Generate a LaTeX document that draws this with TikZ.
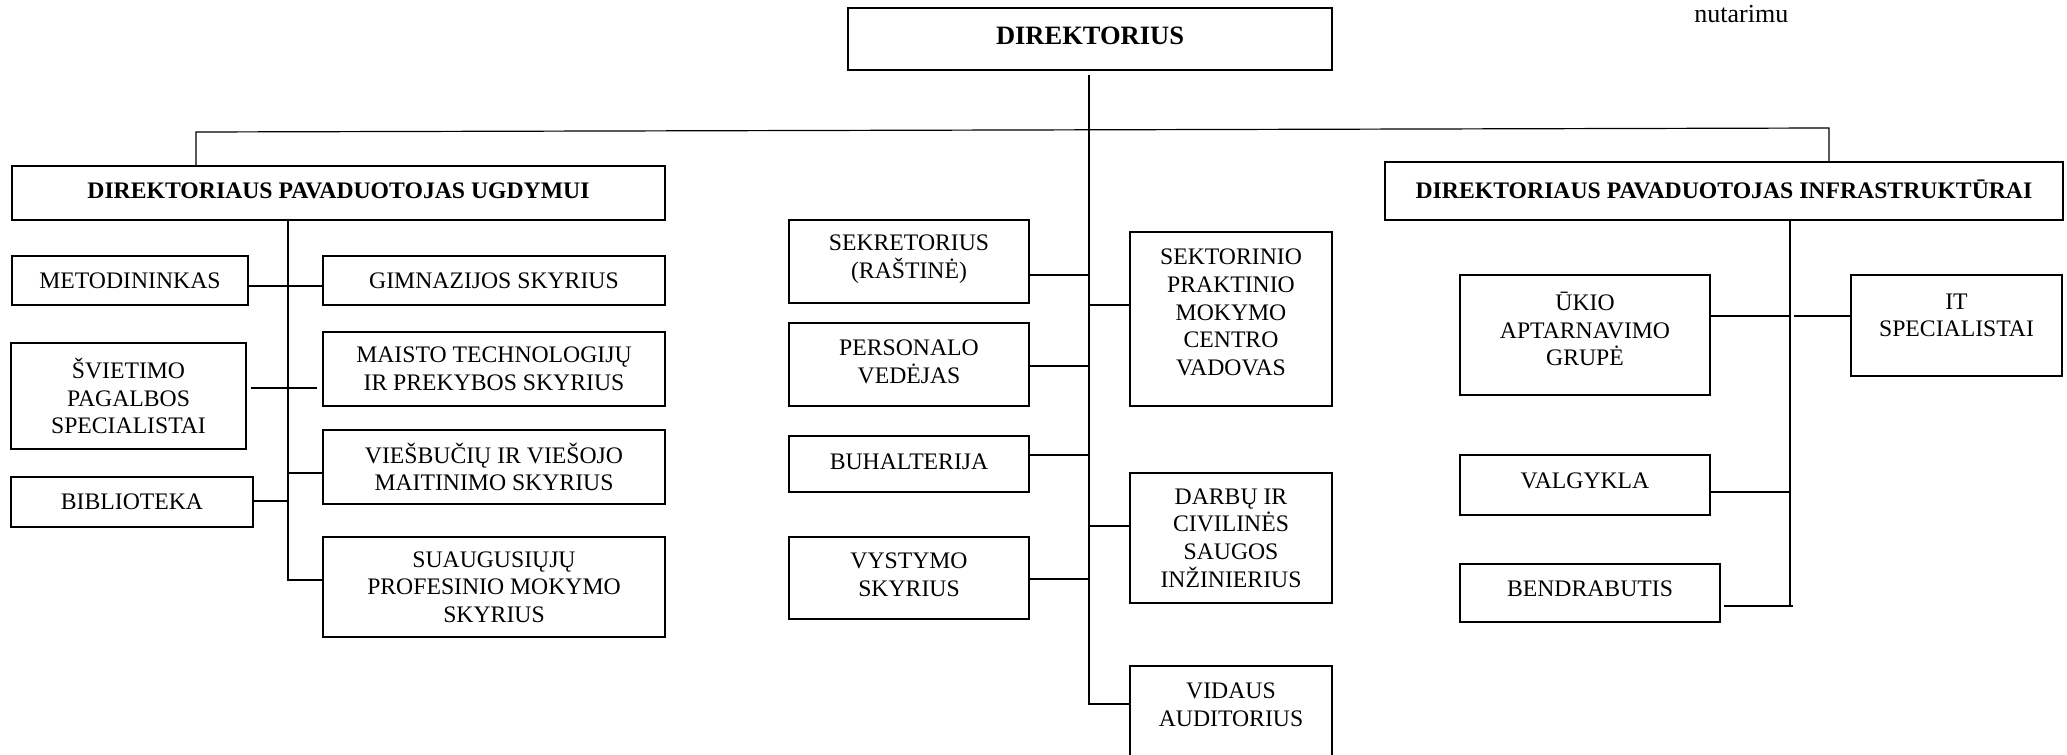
\documentclass[tikz,border=0pt]{standalone}
\usepackage{fontspec}
\setmainfont{Liberation Serif}
\usetikzlibrary{fit,calc}
\begin{document}
\begin{tikzpicture}[x=0.5pt,y=-0.5pt]
\tikzset{
  bx/.style={draw, line width=0.7pt, inner sep=0pt},
  lbl/.style={font=\fontsize{11.85}{13.85}\selectfont, align=center, inner sep=0pt},
  lblb/.style={lbl, font=\fontsize{11.85}{13.85}\selectfont\bfseries},
  ln/.style={line width=0.6pt},
}
\useasboundingbox (0,0) rectangle (2067,755);

% top level
\node[bx, fit={(848,8) (1332,70)}, label={[lblb, font=\fontsize{13.25}{15}\selectfont\bfseries, yshift=1.5pt]center:{DIREKTORIUS}}] (dir) {};
\node[bx, fit={(12,166) (665,220)}, label={[lblb, yshift=1pt]center:{DIREKTORIAUS PAVADUOTOJAS UGDYMUI}}] (ugd) {};
\node[bx, fit={(1385,162) (2063,220)}, label={[lblb, yshift=0.75pt]center:{DIREKTORIAUS PAVADUOTOJAS INFRASTRUKTŪRAI}}] (infra) {};

% left group
\node[bx, fit={(12,256) (248,305)}, label={[lbl]center:{METODININKAS}}] (met) {};
\node[bx, fit={(11,343) (246,449)}, label={[lbl]center:{ŠVIETIMO\\PAGALBOS\\SPECIALISTAI}}] (svi) {};
\node[bx, fit={(11,477) (253,527)}, label={[lbl]center:{BIBLIOTEKA}}] (bib) {};
\node[bx, fit={(323,256) (665,305)}, label={[lbl]center:{GIMNAZIJOS SKYRIUS}}] (gim) {};
\node[bx, fit={(323,332) (665,406)}, label={[lbl]center:{MAISTO TECHNOLOGIJŲ\\IR PREKYBOS SKYRIUS}}] (mai) {};
\node[bx, fit={(323,430) (665,504)}, label={[lbl]center:{VIEŠBUČIŲ IR VIEŠOJO\\MAITINIMO SKYRIUS}}] (vie) {};
\node[bx, fit={(323,537) (665,637)}, label={[lbl]center:{SUAUGUSIŲJŲ\\PROFESINIO MOKYMO\\SKYRIUS}}] (sua) {};

% centre group
\node[bx, fit={(789,220) (1029,303)}, label={[lbl, yshift=1pt]center:{SEKRETORIUS\\(RAŠTINĖ)}}] (sek) {};
\node[bx, fit={(789,323) (1029,406)}, label={[lbl, yshift=1.5pt]center:{PERSONALO\\VEDĖJAS}}] (per) {};
\node[bx, fit={(789,436) (1029,492)}, label={[lbl, yshift=1pt]center:{BUHALTERIJA}}] (buh) {};
\node[bx, fit={(789,537) (1029,619)}, label={[lbl, yshift=1.5pt]center:{VYSTYMO\\SKYRIUS}}] (vys) {};
\node[bx, fit={(1130,232) (1332,406)}, label={[lbl, yshift=3.25pt]center:{SEKTORINIO\\PRAKTINIO\\MOKYMO\\CENTRO\\VADOVAS}}] (sekt) {};
\node[bx, fit={(1130,473) (1332,603)}, label={[lbl]center:{DARBŲ IR\\CIVILINĖS\\SAUGOS\\INŽINIERIUS}}] (dar) {};
\node[bx, fit={(1130,666) (1332,762)}, label={[lbl, yshift=4.5pt]center:{VIDAUS\\AUDITORIUS}}] (vid) {};

% right group
\node[bx, fit={(1460,275) (1710,395)}, label={[lbl, yshift=3pt]center:{ŪKIO\\APTARNAVIMO\\GRUPĖ}}] (uki) {};
\node[bx, fit={(1851,275) (2062,376)}, label={[lbl, yshift=5pt]center:{IT\\SPECIALISTAI}}] (it) {};
\node[bx, fit={(1460,455) (1710,515)}, label={[lbl, yshift=2pt]center:{VALGYKLA}}] (val) {};
\node[bx, fit={(1460,564) (1720,622)}, label={[lbl, yshift=2pt]center:{BENDRABUTIS}}] (ben) {};

% stray text
\node[anchor=base west, font=\fontsize{13}{15}\selectfont, inner sep=0pt] (nut) at (1694,23) {nutarimu};

% top horizontal bar
\coordinate (hL) at (196,132);
\coordinate (hR) at (1829,128);
\draw[ln] (ugd.north -| hL) -- (hL) -- (hR) -- (infra.north -| hR);

% centre trunk
\coordinate (ct) at (1089,75);
\coordinate (c1) at (1089,275);
\coordinate (c2) at (1089,305);
\coordinate (c3) at (1089,366);
\coordinate (c4) at (1089,455);
\coordinate (c5) at (1089,526);
\coordinate (c6) at (1089,579);
\coordinate (c7) at (1089,704);
\draw[ln] (ct) -- (c7) -- (vid.west |- c7);
\draw[ln] (sek.east |- c1) -- (c1);
\draw[ln] (c2) -- (sekt.west |- c2);
\draw[ln] (per.east |- c3) -- (c3);
\draw[ln] (buh.east |- c4) -- (c4);
\draw[ln] (c5) -- (dar.west |- c5);
\draw[ln] (vys.east |- c6) -- (c6);

% left trunk
\coordinate (u1) at (288,286);
\coordinate (u2) at (288,388);
\coordinate (u3) at (288,473);
\coordinate (u4) at (288,501);
\coordinate (u5) at (288,580);
\draw[ln] (ugd.south -| u1) -- (u5) -- (sua.west |- u5);
\draw[ln] (met.east |- u1) -- (gim.west |- u1);
\draw[ln] ($(svi.east |- u2)+(4,0)$) -- ($(mai.west |- u2)+(-5,0)$);
\draw[ln] (u3) -- (vie.west |- u3);
\draw[ln] (bib.east |- u4) -- (u4);

% right trunk
\coordinate (r1) at (1790,316);
\coordinate (r2) at (1790,492);
\coordinate (r3) at (1790,606);
\draw[ln] (infra.south -| r1) -- (r3);
\draw[ln] (uki.east |- r1) -- (r1);
\draw[ln] ($(r1)+(4,0)$) -- (it.west |- r1);
\draw[ln] (val.east |- r2) -- (r2);
\draw[ln] ($(ben.east |- r3)+(3,0)$) -- ($(r3)+(3,0)$);
\end{tikzpicture}
\end{document}
